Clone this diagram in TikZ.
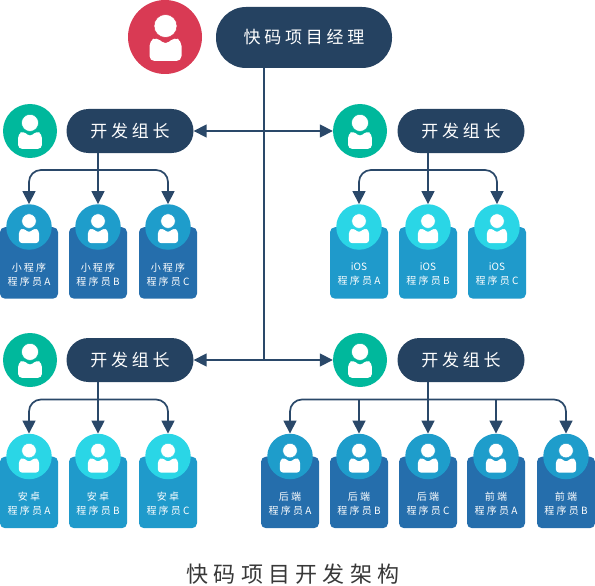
\documentclass[tikz,border=0pt]{standalone}
\usepackage{fontspec}
\usetikzlibrary{arrows.meta}
\newfontfamily\cjkfont[LetterSpace=22]{Noto Sans CJK SC}
\newfontfamily\titlefont[LetterSpace=24]{Noto Sans CJK SC}
\newfontfamily\plainfont{Noto Sans CJK SC}
\definecolor{navy}{HTML}{254261}
\definecolor{wire}{HTML}{2A4869}
\definecolor{redc}{HTML}{D93A54}
\definecolor{greenc}{HTML}{00B89C}
\definecolor{carddark}{HTML}{256EAC}
\definecolor{circdark}{HTML}{1E9DCB}
\definecolor{cardlight}{HTML}{1F9ACB}
\definecolor{circlight}{HTML}{2AD6E6}
\tikzset{
  pill/.style={fill=navy,rounded corners=#1,text=white,inner sep=0pt,align=center},
  leader/.style={pill=22,minimum width=127,minimum height=44,font=\cjkfont\fontsize{17}{20}\selectfont},
  avatar/.style={circle,fill=#1,inner sep=0pt},
  avbig/.style={avatar=greenc,minimum size=54},
  avsmall/.style={avatar=#1,minimum size=45.5},
  card/.style={fill=#1,rounded corners=5,minimum width=58,minimum height=71.5,inner sep=0pt},
  cardtext/.style={text=white,align=center,inner sep=0pt,font=\cjkfont\fontsize{10}{14}\selectfont},
  wireline/.style={draw=wire,line width=1.7pt},
  arrowed/.style={wireline,-{Triangle[length=13pt,width=13pt]}},
  arrowedboth/.style={wireline,{Triangle[length=13pt,width=13pt]}-{Triangle[length=13pt,width=13pt]}},
}
% #1 x, #2 y of body top, #3 scale, #4 outline colour
\newcommand{\personicon}[4]{%
  \fill[white,rounded corners=#3*5pt] (#1-16*#3,-#2-24*#3) -- (#1-16*#3,-#2-4*#3) -- (#1-9*#3,-#2) -- (#1,-#2-8*#3) -- (#1+9*#3,-#2) -- (#1+16*#3,-#2-4*#3) -- (#1+16*#3,-#2-24*#3) -- cycle;
  \filldraw[white,draw=#4,line width=0.5pt] (#1,-#2+11*#3) circle[radius=11.5*#3];
}
% #1 name, #2 x, #3 card top y, #4 card colour, #5 circle colour, #6 first line, #7 second line
\newcommand{\worker}[7]{%
  \node[card=#4,anchor=north] (#1card) at (#2,-#3) {};
  \node[cardtext] (#1text) at (#2,-#3-47.5) {#6\\#7};
  \node[avsmall=#5] (#1) at (#2,-#3) {};
  \personicon{#2}{#3-1}{0.63}{#5}%
}
\begin{document}
\begin{tikzpicture}[x=1pt,y=1pt]
\useasboundingbox (0,0) rectangle (595,-586);
% manager
\node[avatar=redc,minimum size=74] (boss) at (165,-37) {};
\personicon{165.5}{37}{1}{redc}
\node[pill=30,minimum width=176,minimum height=61,font=\cjkfont\fontsize{17}{20}\selectfont] (mgr) at (304,-37.5) {快码项目经理};
% leaders
\node[leader] (ltl) at (130,-131) {开发组长};
\node[leader] (ltr) at (461,-131) {开发组长};
\node[leader] (lbl) at (130,-360) {开发组长};
\node[leader] (lbr) at (461,-360) {开发组长};
\node[avbig] (atl) at (30,-131) {}; \personicon{30}{131}{0.74}{greenc}
\node[avbig] (atr) at (360,-131) {}; \personicon{360}{131}{0.74}{greenc}
\node[avbig] (abl) at (30,-360) {}; \personicon{30}{360}{0.74}{greenc}
\node[avbig] (abr) at (360,-360) {}; \personicon{360}{360}{0.74}{greenc}
% workers
\worker{a1}{29}{227}{carddark}{circdark}{小程序}{程序员A}
\worker{a2}{98}{227}{carddark}{circdark}{小程序}{程序员B}
\worker{a3}{168}{227}{carddark}{circdark}{小程序}{程序员C}
\worker{b1}{359}{227}{cardlight}{circlight}{{\plainfont iOS}}{程序员A}
\worker{b2}{428}{227}{cardlight}{circlight}{{\plainfont iOS}}{程序员B}
\worker{b3}{497}{227}{cardlight}{circlight}{{\plainfont iOS}}{程序员C}
\worker{c1}{29}{456.5}{cardlight}{circlight}{安卓}{程序员A}
\worker{c2}{98}{456.5}{cardlight}{circlight}{安卓}{程序员B}
\worker{c3}{168}{456.5}{cardlight}{circlight}{安卓}{程序员C}
\worker{d1}{290}{456.5}{carddark}{circdark}{后端}{程序员A}
\worker{d2}{359}{456.5}{carddark}{circdark}{后端}{程序员B}
\worker{d3}{428}{456.5}{carddark}{circdark}{后端}{程序员C}
\worker{d4}{496}{456.5}{carddark}{circdark}{前端}{程序员A}
\worker{d5}{566}{456.5}{carddark}{circdark}{前端}{程序员B}
% connectors
\coordinate (hub) at (264,-360);
\coordinate (ba) at (98,-170);
\coordinate (bb) at (428,-170);
\coordinate (bc) at (98,-399.5);
\coordinate (bd) at (428,-399.5);
\draw[wireline] (mgr.south -| hub) -- (hub);
\draw[arrowedboth] (ltl.east) -- (atr.west);
\draw[arrowedboth] (lbl.east) -- (abr.west);
\draw[arrowed] (ltl.south -| a2) -- (a2.north);
\draw[arrowedboth,rounded corners=12] (a1.north) |- (ba) -| (a3.north);
\draw[arrowed] (ltr.south -| b2) -- (b2.north);
\draw[arrowedboth,rounded corners=12] (b1.north) |- (bb) -| (b3.north);
\draw[arrowed] (lbl.south -| c2) -- (c2.north);
\draw[arrowedboth,rounded corners=12] (c1.north) |- (bc) -| (c3.north);
\draw[arrowed] (lbr.south -| d3) -- (d3.north);
\draw[arrowedboth,rounded corners=12] (d1.north) |- (bd) -| (d5.north);
\draw[arrowed] (bd -| d2) -- (d2.north);
\draw[arrowed] (bd -| d4) -- (d4.north);
% title
\node[text=black!78,inner sep=0pt,font=\titlefont\fontsize{22}{26}\selectfont] (title) at (293,-574) {快码项目开发架构};
\end{tikzpicture}
\end{document}
